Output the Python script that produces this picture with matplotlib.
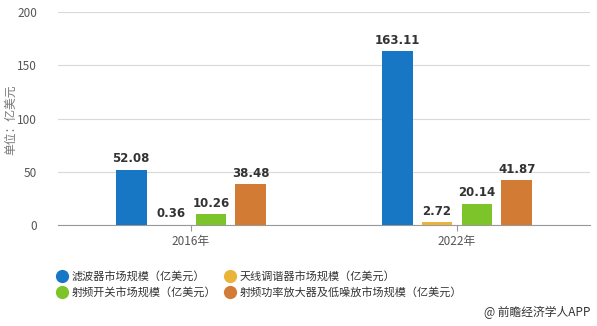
import matplotlib
matplotlib.use("Agg")
import matplotlib.pyplot as plt
from matplotlib.lines import Line2D
import numpy as np

plt.rcParams['font.family'] = ['Noto Sans CJK SC', 'DejaVu Sans']

years = ["2016年", "2022年"]
series_names = ["滤波器市场规模（亿美元）", "天线调谐器市场规模（亿美元）",
                "射频开关市场规模（亿美元）", "射频功率放大器及低噪放市场规模（亿美元）"]
filter_vals = [52.08, 163.11]
tuner_vals = [0.36, 2.72]
switch_vals = [10.26, 20.14]
pa_vals = [38.48, 41.87]
colors = ["#1877c5", "#eab33a", "#7cc42a", "#d27b35"]
yticks = [0, 50, 100, 150, 200]

fig = plt.figure(figsize=(5.97, 3.26), dpi=100)
ax = fig.add_axes([58/597, 1 - 225/326, (590-58)/597, (225-12)/326])

x = np.arange(len(years))
all_vals = [filter_vals, tuner_vals, switch_vals, pa_vals]
slot = 0.15
bw = 0.116
for i, (vals, c) in enumerate(zip(all_vals, colors)):
    pos = x + (i - 1.5) * slot
    ax.bar(pos, vals, width=bw, color=c, zorder=3)
    for p, v in zip(pos, vals):
        ax.text(p, v + 4, f"{v:.2f}", ha='center', va='bottom', fontsize=8.5,
                fontweight='bold', color='#333333', family='DejaVu Sans', zorder=4)

ax.set_xlim(-0.5, 1.5)
ax.set_ylim(0, 200)
ax.set_yticks(yticks)
ax.set_xticks(x)
ax.set_xticklabels(years)
ax.grid(axis='y', color='#d9d9d9', linewidth=0.8, zorder=0)
for s in ['top', 'right', 'left']:
    ax.spines[s].set_visible(False)
ax.spines['bottom'].set_color('#999999')
ax.tick_params(axis='y', length=0, labelsize=8.5, labelcolor='#555555', pad=15)
ax.tick_params(axis='x', length=4, color='#999999', labelsize=8.5, labelcolor='#555555', pad=3)
fig.text(11/597, 1 - 120/326, "单位：亿美元", rotation=90, ha='center', va='center',
         fontsize=8.5, color='#777777')

order = [0, 2, 1, 3]
handles = [Line2D([], [], marker='o', linestyle='none', markersize=8.5,
                  markerfacecolor=colors[k], markeredgecolor=colors[k]) for k in order]
labels = [series_names[k] for k in order]
fig.legend(handles, labels, loc='upper left', bbox_to_anchor=(56/597, 1 - 271/326),
           ncol=2, frameon=False, fontsize=8, handlelength=1.0, handletextpad=0.4,
           columnspacing=0.7, labelspacing=0.5, borderaxespad=0, borderpad=0,
           labelcolor='#333333')

fig.text(590/597, 1 - 312/326, "@ 前瞻经济学人APP", ha='right', va='center', fontsize=8.5, color='#333333')

fig.savefig("out.png", dpi=100)
